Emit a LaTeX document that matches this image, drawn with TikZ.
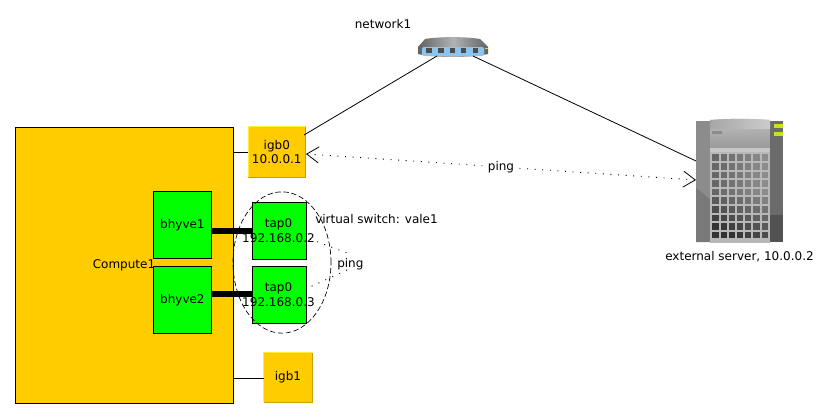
\documentclass[tikz,border=0pt]{standalone}
\usepackage{fontspec}
\setmainfont{DejaVu Sans}
\usetikzlibrary{arrows.meta,shapes.geometric}
\definecolor{amber}{HTML}{FFCC00}
\definecolor{amberlight}{HTML}{FFEE33}
\definecolor{amberdark}{HTML}{C8A000}
\definecolor{vmgreen}{HTML}{00FF00}
\definecolor{swblue}{HTML}{8CC4F0}
\definecolor{led}{HTML}{CCE022}
\tikzset{
  lbl/.style={font=\fontsize{9}{10.8}\selectfont,inner sep=0pt,align=center,text=black},
  amberbox/.style={lbl,fill=amber},
  vmbox/.style={lbl,fill=vmgreen,draw=black,line width=0.6pt},
  wire/.style={draw=black,line width=0.6pt},
  thick wire/.style={draw=black,line width=4pt},
  pingline/.style={draw=black,line width=0.7pt,dash pattern=on 0.7pt off 5pt},
  bevellight/.style={draw=amberlight,line width=0.6pt},
  beveldark/.style={draw=amberdark,line width=0.6pt},
}
\begin{document}
\begin{tikzpicture}[x=0.75pt,y=-0.75pt]
\useasboundingbox (0,0) rectangle (831,418);
\fill[white] (0,0) rectangle (831,418);

% compute host
\node[lbl,fill=amber,draw=black,line width=0.6pt,anchor=north west,minimum width=163.5pt,minimum height=207pt] (compute) at (15,127) {};
\node[lbl] (computelabel) at (124,265.5) {Compute1};

% interfaces
\node[amberbox,minimum width=42.75pt,minimum height=37.5pt] (igb0) at (276.8,152) {igb0\\10.0.0.1};
\node[amberbox,minimum width=36pt,minimum height=36.75pt] (igb1) at (288,377.5) {igb1};
\draw[bevellight] (igb0.south west) -- (igb0.north west) -- (igb0.north east);
\draw[beveldark] (igb0.north east) -- (igb0.south east) -- (igb0.south west);
\draw[bevellight] (igb1.south west) -- (igb1.north west) -- (igb1.north east);
\draw[beveldark] (igb1.north east) -- (igb1.south east) -- (igb1.south west);
\coordinate (c0) at (233,152);
\coordinate (c1) at (233,378);
\draw[wire] (c0) -- (igb0.west);
\draw[wire] (c1) -- (igb1.west |- c1);

% VMs
\node[vmbox,anchor=north west,minimum width=43.5pt,minimum height=50pt] (bhyve1) at (153,191) {bhyve1};
\node[vmbox,anchor=north west,minimum width=43.5pt,minimum height=50pt] (bhyve2) at (153,266) {bhyve2};
\node[vmbox,anchor=north west,minimum width=40.5pt,minimum height=42.75pt] (tap1) at (252,202) {};
\node[vmbox,anchor=north west,minimum width=40.5pt,minimum height=42.75pt] (tap2) at (252,266) {};
\node[lbl] (tap1label) at (278.5,230.5) {tap0\\192.168.0.2};
\node[lbl] (tap2label) at (278.5,294.5) {tap0\\192.168.0.3};
\draw[thick wire] (bhyve1.east |- 0,231) -- (tap1.west |- 0,231);
\draw[thick wire] (bhyve2.east |- 0,294) -- (tap2.west |- 0,294);

% virtual switch
\node[draw=black,ellipse,line width=0.5pt,dash pattern=on 4pt off 2pt,minimum width=73.5pt,minimum height=106pt,inner sep=0pt] (vale) at (282,262.5) {};
\node[lbl,anchor=west] (valelabel) at (315,219.5) {virtual switch: vale1};

% ping between VMs
\node[lbl,anchor=west] (ping2) at (337,264) {ping};
\coordinate (p1) at (310,239);
\coordinate (p2) at (347,253);
\coordinate (p3) at (347,270);
\coordinate (p4) at (310,287);
\draw[pingline] (p1) -- (p2);
\draw[pingline] (p3) -- (p4);

% network switch
\shade[left color=black!62,right color=black!62,middle color=black!30] (418,47) -- (425,39) .. controls (440,36.5) and (465,36.5) .. (480,39) -- (488,47) -- (488,54) .. controls (470,58) and (435,58) .. (418,54) -- cycle;
\fill[rounded corners=1.5pt,fill=swblue] (422,47) rectangle (484,56);
\foreach \x in {429,441,452.5,463.5,475.5}{\fill[black!70] (\x-2.8,48) rectangle (\x+2.8,53.2);}
\fill[led] (485,47.5) rectangle (487.5,49);
\coordinate (swl) at (437,56);
\coordinate (swr) at (473,56);
\node[lbl] (netlabel) at (383,24) {network1};

% external server
\fill[black!45] (696,121) rectangle (710,242);
\fill[black!52] (696,188) -- (710,199) -- (710,242) -- (696,242) -- cycle;
\fill[black!58] (770,121) rectangle (783,242);
\fill[black!68] (770,215) rectangle (783,242);
\shade[top color=black!25,bottom color=black!40] (710,120) .. controls (730,118.5) and (750,118.5) .. (770,120) -- (770,148) -- (710,148) -- cycle;
\shade[left color=black!35,right color=black!20] (710,120) .. controls (730,118.5) and (750,118.5) .. (770,120) -- (770,129) -- (710,129) -- cycle;
\fill[black!45] (712,131) rectangle (722,134);
\fill[black!22] (710,148) rectangle (770,152);
\fill[black!28] (710,152) rectangle (770,243);
\foreach \i in {0,...,9}{
  \foreach \j in {0,...,6}{
    \pgfmathsetmacro{\sh}{min(80,max(42,60+(\i>4)*(\i-4)*5-\j*2.5))}
    \fill[black!\sh] ({712.3+\j*8.2},{154.3+\i*8.6}) rectangle ({718.5+\j*8.2},{161+\i*8.6});
  }
}
\fill[led] (774,124) rectangle (783,127.5);
\fill[led] (774,132) rectangle (783,135.5);
\coordinate (srvl) at (696,161);
\coordinate (srva) at (696,180);
\node[lbl] (srvlabel) at (739.5,257) {external server, 10.0.0.2};

% links
\coordinate (igbn) at (304,135);
\draw[wire] (igbn) -- (swl);
\draw[wire] (swr) -- (srvl);

% ping igb0 to server
\coordinate (ia) at (306,154);
\draw[pingline,{Straight Barb[length=9pt,width=12pt,line width=0.6pt]}-{Straight Barb[length=9pt,width=12pt,line width=0.6pt]}] (ia) -- (srva);
\node[lbl,fill=white,inner xsep=0pt,inner ysep=1pt] (pinglabel) at (501,167) {ping};
\end{tikzpicture}
\end{document}
